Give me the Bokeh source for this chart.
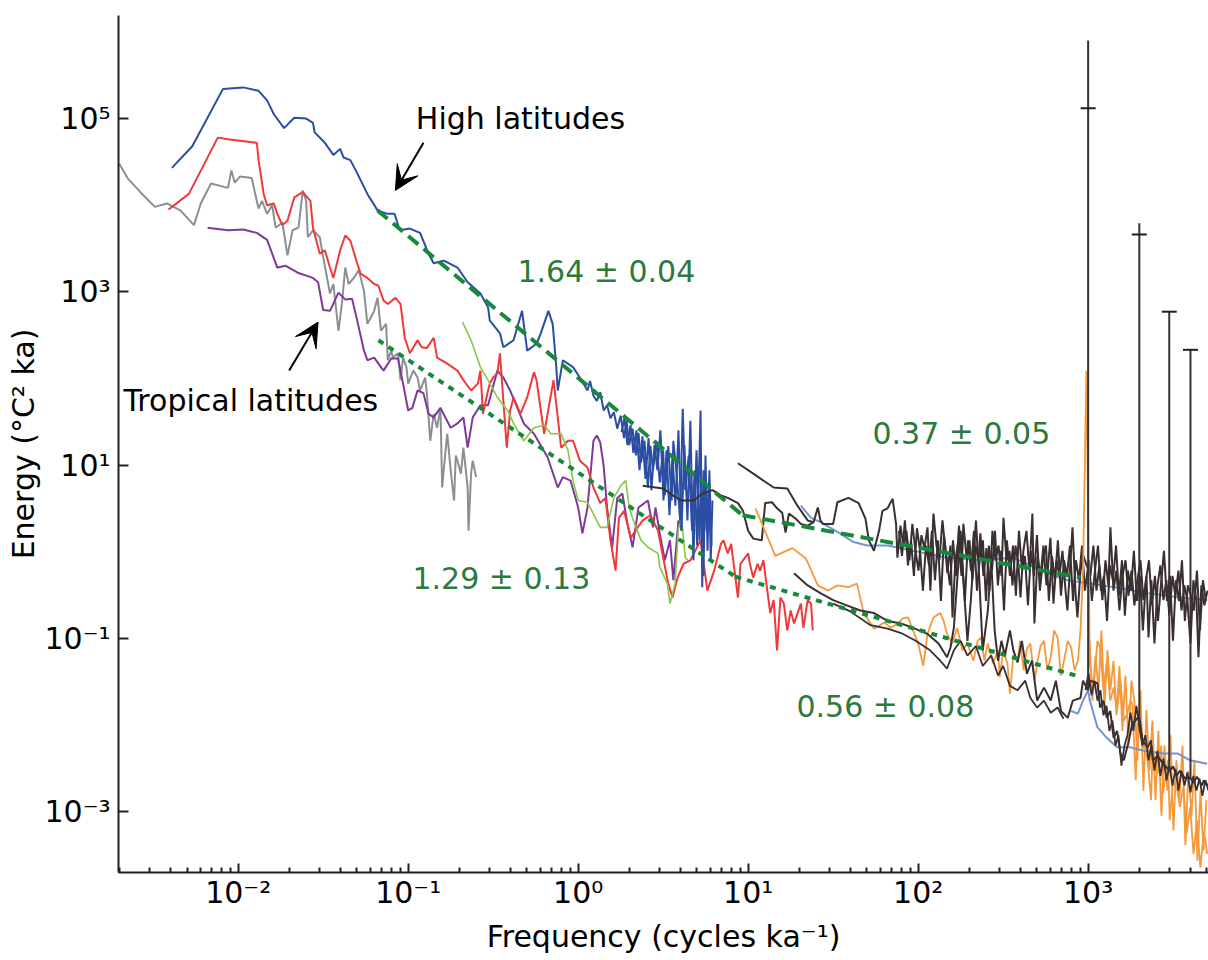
from bokeh.plotting import figure
from bokeh.models import Range1d, FixedTicker, ColumnDataSource, Label, Arrow, VeeHead
from bokeh.embed import file_html
from bokeh.resources import INLINE

# ---- values (log10 of frequency in cycles/ka, log10 of energy in degC^2 ka) ----
blue_log_f = [-2.39,-2.27,-2.09,-1.97,-1.88,-1.83,-1.79,-1.73,-1.67,-1.60,-1.56,-1.55,-1.49,-1.44,-1.40,-1.38,-1.34,-1.30,-1.24,-1.18,
              -1.12,-1.08,-1.05,-0.99,-0.93,-0.88,-0.85,-0.79,-0.71,-0.65,-0.575,-0.53,-0.52,-0.46,-0.44,-0.38,-0.33,-0.30,-0.245,-0.22,
              -0.175,-0.15,-0.13,-0.12,-0.09,-0.03,0.01,0.055,
              0.07,0.09,0.11,0.13,0.15,0.17,0.19,0.21,0.23,0.25,0.27,0.285,0.30,0.32,0.34,0.355,0.37,0.39,0.41,0.425,
              0.44,0.46,0.48,0.50,0.51,0.53,0.55,0.56,0.58,0.60,0.615,0.63,0.65,0.67,0.685,0.70,0.72,0.73,0.74,0.755,0.77,0.78,0.79]
blue_log_E = [4.43,4.68,5.34,5.36,5.32,5.21,5.05,4.89,5.01,5.00,4.95,4.84,4.72,4.58,4.65,4.55,4.52,4.37,4.13,3.94,
              3.90,3.90,3.71,3.73,3.68,3.44,3.33,3.36,3.28,3.11,2.98,2.82,2.67,2.52,2.36,2.44,2.78,2.32,2.40,2.52,
              2.78,2.63,2.17,1.86,2.21,2.13,2.01,1.86,
              1.97,1.80,1.74,1.84,1.63,1.69,1.54,1.61,1.42,1.57,1.31,1.51,1.23,1.42,1.11,1.37,1.03,1.28,0.74,1.22,
              0.94,1.28,0.80,1.17,0.65,1.22,0.59,1.28,0.88,0.36,1.65,0.71,1.11,0.24,0.94,0.07,1.63,-0.41,0.94,0.24,0.82,-0.10,0.59]
blue_dense_log_f = [0.255,0.272,0.29,0.308,0.325,0.343,0.361,0.378,0.396,0.414,0.431,0.449,0.466,0.484,0.502,0.52,0.537,0.555,0.572,0.59,
                    0.608,0.625,0.643,0.66,0.678,0.696,0.714,0.725,0.737,0.749,0.761,0.772,0.784]
blue_dense_log_E = [1.38,1.54,1.23,1.46,1.14,1.40,0.94,1.33,0.84,1.31,0.71,1.23,0.94,1.40,0.59,1.17,0.42,1.11,0.53,1.40,
                    0.24,1.23,0.36,1.51,-0.10,1.17,0.13,0.94,-0.28,1.11,0.01,0.94,0.07]

red_log_f = [-2.41,-2.29,-2.12,-2.06,-1.89,-1.88,-1.85,-1.83,-1.79,-1.77,-1.74,-1.71,-1.67,-1.62,-1.575,-1.56,-1.52,-1.49,-1.46,-1.44,
             -1.40,-1.37,-1.34,-1.30,-1.28,-1.24,-1.20,-1.175,-1.145,-1.12,-1.075,-1.045,-1.02,-0.99,-0.945,-0.92,-0.89,-0.85,-0.83,-0.77,
             -0.71,-0.675,-0.63,-0.59,-0.575,-0.56,-0.53,-0.52,-0.50,-0.475,-0.46,-0.44,-0.42,-0.40,-0.38,-0.34,-0.30,-0.26,-0.245,-0.20,
             -0.18,-0.145,-0.10,-0.06,-0.03,0.01,0.055,0.09,0.13,0.16,0.19,0.22,0.24,0.27,0.31,0.35,0.38,0.425,0.47,0.50,
             0.53,0.555,0.585,0.62,0.66,0.72,0.76,0.80,0.84,0.855,0.88,0.90,0.91,0.94,0.955,1.00,1.01,1.03,1.055,1.07,
             1.09,1.11,1.13,1.15,1.17,1.19,1.21,1.23,1.25,1.27,1.31,1.325,1.35,1.37,1.38]
red_log_E = [3.95,4.13,4.78,4.76,4.72,4.52,4.13,4.00,4.02,3.90,3.77,3.82,4.09,4.15,4.05,3.74,3.44,3.48,3.28,3.16,
             3.48,3.65,3.59,3.33,3.21,3.16,3.09,3.07,2.90,2.86,2.93,2.86,2.47,2.29,2.44,2.36,2.35,2.47,2.24,2.17,
             2.09,1.98,1.86,1.94,2.09,1.59,1.86,1.94,2.01,2.06,2.29,1.74,1.20,1.63,1.78,1.59,1.78,2.07,1.98,1.36,
             1.59,1.98,1.20,1.28,1.28,1.05,0.97,0.74,0.56,0.62,0.13,-0.22,0.39,0.47,0.16,0.28,0.36,0.42,0.24,-0.07,
             -0.37,-0.53,-0.30,-0.14,-0.10,0.13,-0.45,-0.22,0.09,0.13,-0.02,0.09,-0.07,-0.53,-0.14,-0.02,-0.14,-0.30,-0.14,-0.22,
             -0.10,-0.41,-0.71,-0.56,-1.14,-0.53,-0.60,-0.91,-0.68,-0.83,-0.60,-0.88,-0.56,-0.60,-0.91]

gray_log_f = [-2.70,-2.65,-2.575,-2.49,-2.42,-2.34,-2.26,-2.22,-2.16,-2.06,-2.04,-2.02,-1.99,-1.94,-1.92,-1.90,-1.88,-1.86,-1.83,-1.80,
              -1.78,-1.74,-1.71,-1.68,-1.645,-1.62,-1.60,-1.59,-1.56,-1.52,-1.50,-1.46,-1.44,-1.41,-1.39,-1.37,-1.35,-1.32,-1.29,-1.26,
              -1.24,-1.22,-1.20,-1.18,-1.16,-1.13,-1.12,-1.10,-1.09,-1.06,-1.045,-1.03,-1.01,-1.00,-0.97,-0.945,-0.93,-0.90,-0.89,-0.87,
              -0.85,-0.83,-0.81,-0.80,-0.78,-0.77,-0.75,-0.73,-0.72,-0.71,-0.69,-0.675,-0.65,-0.645,-0.63,-0.62,-0.60]
gray_log_E = [4.48,4.31,4.15,3.98,4.02,3.94,3.77,4.02,4.25,4.20,4.40,4.26,4.33,4.32,4.31,4.13,3.96,4.05,3.90,4.00,
              3.74,3.80,3.42,3.71,3.74,4.17,4.05,3.63,3.71,3.63,3.40,2.98,3.09,2.55,2.86,3.28,3.09,3.16,3.25,3.01,
              2.63,2.70,2.78,2.93,2.55,2.63,2.21,2.32,2.24,2.29,1.98,2.24,2.13,1.94,2.09,2.01,1.86,2.01,1.83,1.28,
              1.59,1.43,1.66,0.74,1.17,1.36,0.94,0.59,1.11,1.05,0.90,1.20,0.74,0.24,0.90,1.05,0.86]

purple_log_f = [-2.18,-2.06,-1.97,-1.89,-1.83,-1.77,-1.72,-1.65,-1.56,-1.53,-1.50,-1.46,-1.41,-1.37,-1.33,-1.30,-1.26,-1.24,-1.20,-1.145,
                -1.10,-1.06,-1.03,-1.00,-0.975,-0.945,-0.91,-0.88,-0.85,-0.81,-0.75,-0.71,-0.675,-0.65,-0.62,-0.575,-0.53,-0.475,-0.44,-0.40,
                -0.32,-0.26,-0.18,-0.12,-0.09,-0.045,0.00,0.025,0.055,0.09,0.11,0.13,0.15,0.17,0.20,0.23,0.26,0.29,0.32,0.355,
                0.41,0.44,0.455,0.48,0.51,0.54,0.56,0.59,0.61]
purple_log_E = [3.74,3.71,3.72,3.68,3.60,3.28,3.30,3.22,3.16,3.11,2.79,2.78,2.99,2.91,2.92,2.67,2.32,2.21,2.24,2.09,
                2.23,2.23,1.94,1.63,1.66,1.86,1.83,1.59,1.55,1.66,1.43,1.48,1.55,1.20,1.55,1.69,1.69,2.09,2.01,1.86,
                1.48,1.36,1.09,0.74,0.86,0.82,0.51,0.21,0.51,1.28,1.34,1.26,0.99,0.51,0.05,0.62,0.67,0.32,0.05,0.51,
                0.59,0.28,0.51,0.21,-0.10,0.13,-0.33,0.36,0.24]

green_log_f = [-0.68,-0.63,-0.575,-0.53,-0.475,-0.415,-0.38,-0.32,-0.26,-0.20,-0.16,-0.10,-0.06,-0.03,0.00,0.055,0.13,0.17,0.21,0.25,
               0.28,0.30,0.325,0.37,0.41,0.47,0.48,0.525,0.54,0.57,0.59,0.61,0.63,0.645]
green_log_E = [2.65,2.44,2.13,1.98,1.78,1.63,1.48,1.28,1.43,1.46,1.36,1.36,1.17,0.82,0.59,0.57,0.28,0.28,0.62,0.76,
               0.82,0.51,0.36,0.13,0.05,-0.02,-0.18,-0.37,-0.60,-0.37,0.28,0.36,-0.07,-0.10]

dark_a_log_f = [0.38,0.50,0.555,0.61,0.68,0.73,0.79,0.84,0.88,0.94,0.97,1.00,1.03,1.08,1.10,1.14,1.17,1.20,1.22,1.24,
                1.28,1.31,1.35,1.385,1.41,1.425,1.44,1.50,1.525,1.59,1.65,1.69,1.71,1.74,1.77,1.79,1.82,1.85,1.87]
dark_a_log_E = [0.76,0.73,0.65,0.59,0.59,0.67,0.71,0.65,0.62,0.56,0.47,0.24,0.15,0.13,0.56,0.57,0.50,0.45,0.22,0.44,
                0.38,0.32,0.30,0.34,0.51,0.36,0.32,0.32,0.57,0.62,0.56,0.38,0.13,0.01,0.24,0.47,0.50,0.61,0.32]

band_log_f = [1.878,1.896,1.913,1.931,1.949,1.966,1.984,2.002,2.019,2.037,2.055,2.072,2.090,2.108,2.125,2.143,2.161,2.172,2.190,2.202,
              2.219,2.237,2.255,2.266,2.284,2.302,2.319,2.337,2.355,2.366,2.384,2.402,2.420,2.437,2.455,2.473,2.490,2.502,2.520,2.537,
              2.555,2.573,2.590,2.602,2.619,2.637,2.655,2.672,2.684,2.702,2.720,2.737,2.755,2.778,2.796,2.814,2.831,2.849,2.867,2.878,
              2.896,2.908,2.925,2.937,2.955,2.972,3.013,3.031,3.049,3.066,3.084,3.102,3.119,3.131,3.149,3.166,3.184,3.202,3.220,3.237,
              3.255,3.272,3.290,3.308,3.325,3.343,3.355,3.372,3.390,3.408,3.425,3.443,3.460,3.478,3.496,3.513,3.531,3.549,3.566,3.584,
              3.602,3.619,3.637,3.649,3.666,3.684,3.702]
band_log_E = [-0.07,0.30,0.07,0.24,-0.10,0.32,0.01,-0.22,0.19,0.04,0.28,-0.45,0.44,0.07,-0.10,0.36,0.01,-0.25,0.07,-0.76,
              -0.10,0.13,-0.28,0.32,-0.05,0.13,-0.33,0.07,-0.10,0.21,-0.28,0.04,-0.45,0.24,-0.10,0.07,-0.28,0.39,-0.10,0.01,
              -0.39,0.07,-0.16,-0.53,0.01,0.24,-0.22,0.44,-0.83,-0.05,-0.28,0.07,-0.39,0.16,-0.60,-0.10,-0.28,0.01,-0.45,-0.68,
              -0.10,0.28,-0.45,-0.76,-0.22,-0.05,-0.28,0.07,-0.45,-0.16,-0.56,-0.10,-0.39,0.28,-0.45,-0.22,-0.68,-0.28,-0.10,-0.51,
              -0.22,-0.62,-0.33,-0.10,-0.56,-0.28,-0.99,-0.33,-1.06,-0.39,-0.16,-0.56,-0.33,-0.74,-0.28,-0.51,-0.22,-0.68,-0.39,-0.56,
              -1.06,-0.33,-0.56,-1.22,-0.39,-0.62,-0.45]
band2_log_f = [1.887,1.905,1.922,1.940,1.958,1.975,1.993,2.011,2.028,2.046,2.064,2.081,2.099,2.116,2.134,2.152,2.169,2.187,2.205,2.222,
               2.240,2.258,2.275,2.293,2.311,2.328,2.346,2.364,2.381,2.399,2.416,2.434,2.452,2.469,2.487,2.505,2.522,2.540,2.558,2.575,
               2.593,2.611,2.628,2.646,2.664,2.681,2.699,2.716,2.734,2.752,2.769,2.787,2.805,2.822,2.840,2.858,2.875,2.893,2.911,2.928,
               2.946,2.964,2.981,3.005,3.022,3.040,3.058,3.075,3.093,3.111,3.128,3.146,3.164,3.181,3.199,3.216,3.234,3.252,3.269,3.287,
               3.305,3.322,3.340,3.358,3.375,3.393,3.411,3.428,3.446,3.464,3.481,3.499,3.516,3.534,3.552,3.569,3.587,3.605,3.622,3.640,
               3.658,3.675,3.693]
band2_log_E = [0.24,-0.05,0.36,-0.16,0.13,-0.28,0.27,0.01,-0.45,0.07,-0.16,0.24,-0.33,0.13,-0.57,0.19,-0.10,-0.39,0.13,-0.28,
               0.30,-0.10,-0.57,0.13,-0.22,0.24,-0.45,-0.05,0.13,-0.57,0.07,-0.22,0.24,-0.39,0.01,-0.68,0.13,-0.28,0.07,-0.51,
               0.24,-0.22,-0.05,-0.62,0.01,-0.28,0.19,-0.45,-0.10,0.07,-0.57,-0.05,-0.33,0.13,-0.51,-0.10,-0.28,0.07,-0.57,-0.10,
               -0.33,0.07,-0.45,-0.10,-0.57,-0.22,0.07,-0.45,-0.28,-0.80,-0.16,-0.33,0.07,-0.51,-0.10,-0.74,-0.22,-0.45,0.01,-0.57,
               -0.28,-0.91,-0.33,-0.10,-0.62,-0.28,-0.80,-0.39,0.01,-0.57,-0.28,-1.03,-0.33,-0.57,-0.10,-0.80,-0.39,-0.51,-0.68,-0.22,
               -0.91,-0.33,-0.57]

dark_b_log_f = [0.94,1.03,1.15,1.23,1.29,1.35,1.385]
dark_b_log_E = [1.02,0.90,0.74,0.73,0.53,0.36,0.34]

dark_c_log_f = [1.27,1.35,1.425,1.50,1.58,1.66,1.74,1.82,1.90,1.97,2.055,2.12,2.17,2.19,2.21,2.23,2.25,2.27,2.29,2.31,
                2.34,2.36,2.38,2.41,2.43,2.45,2.47,2.49,2.51,2.54,2.56,2.585,2.61,2.64,2.67,2.70,2.74,2.78,2.81,2.84,
                2.88,2.91,2.955,2.97,3.00,3.01,3.055,3.07,3.09,3.11,3.13,3.15,3.17,3.19,3.21,3.24,3.26,3.28,3.30,3.32,
                3.35,3.37,3.38,3.41,3.44,3.48,3.50,3.52,3.54,3.57,3.60,3.62,3.64,3.67,3.68,3.71]
dark_c_log_E = [-0.25,-0.39,-0.48,-0.56,-0.62,-0.68,-0.71,-0.80,-0.83,-0.88,-0.95,-1.06,-1.22,-1.11,-0.88,-0.33,0.24,-0.45,-1.03,-0.56,
                0.36,-0.33,-1.14,-0.68,-0.10,-0.91,-1.26,-1.03,-1.20,-0.91,-1.14,-1.28,-1.03,-1.41,-1.26,-1.72,-1.57,-1.72,-1.49,-1.84,
                -1.92,-1.72,-1.69,-1.49,-1.60,-1.49,-1.52,-1.80,-1.72,-1.92,-1.84,-2.15,-2.07,-2.33,-2.41,-2.18,-1.98,-1.95,-1.89,-2.18,
                -2.26,-2.18,-2.41,-2.36,-2.45,-2.53,-2.48,-2.59,-2.53,-2.62,-2.61,-2.67,-2.60,-2.70,-2.64,-2.72]

dark_d_log_f = [1.50,1.60,1.72,1.82,1.90,1.985,2.07,2.13,2.17,2.21,2.25,2.29,2.34,2.38,2.43,2.47,2.50,2.54,2.585,2.63,
                2.66,2.70,2.74,2.78,2.82,2.855]
dark_d_log_E = [-0.60,-0.69,-0.85,-0.89,-0.94,-1.03,-1.14,-1.26,-1.35,-1.14,-1.03,-1.20,-1.09,-1.32,-1.20,-1.43,-1.32,-1.55,-1.60,-1.49,
                -1.69,-1.80,-1.72,-1.86,-1.80,-1.93]

dark_e_log_f = [2.984,3.002,3.020,3.037,3.055,3.072,3.090,3.108,3.125,3.143,3.161,3.178,3.196,3.214,3.231,3.249,3.266,3.284,3.302,3.319,
                3.337,3.355,3.372,3.390,3.408,3.425,3.443,3.461,3.478,3.496,3.514,3.531,3.549,3.567,3.584,3.602,3.619,3.637,3.655,3.672,
                3.690,3.708]
dark_e_log_E = [-1.60,-1.40,-1.66,-1.49,-1.72,-1.60,-1.89,-1.78,-2.07,-1.95,-2.24,-2.12,-2.47,-2.24,-2.12,-1.86,-2.07,-1.78,-2.04,-2.24,
                -2.12,-2.41,-2.24,-2.53,-2.30,-2.59,-2.39,-2.64,-2.47,-2.70,-2.51,-2.76,-2.53,-2.70,-2.55,-2.78,-2.59,-2.76,-2.62,-2.82,
                -2.64,-2.76]

orange_log_f = [1.043,1.09,1.16,1.26,1.34,1.41,1.47,1.525,1.59,1.64,1.68,1.74,1.80,1.84,1.88,1.91,1.94,1.97,2.00,2.03,
                2.055,2.09,2.13,2.15,2.17,2.20,2.23,2.26,2.29,2.325,2.35,2.37,2.39,2.41,2.44,2.47,2.48,2.50,2.525,2.54,
                2.56,2.585,2.60,2.62,2.64,2.66,2.685,2.70,2.72,2.74,2.76,2.78,2.80,2.82,2.84,2.855,2.88,2.90,2.92,2.94,
                2.955,2.97,2.99,3.00,3.01,3.03,3.055,3.07,3.09,3.11,3.13,3.15,3.17,3.19,3.21,3.23,3.25,3.26,3.28,3.29,
                3.31,3.325,3.35,3.37,3.38,3.40,3.41,3.43,3.44,3.47,3.48,3.50,3.525,3.54,3.56,3.58,3.60,3.62,3.64,3.66,
                3.68,3.69,3.70]
orange_log_E = [0.50,0.28,-0.05,0.04,-0.08,-0.39,-0.45,-0.39,-0.41,-0.37,-0.71,-0.89,-0.82,-0.88,-0.83,-0.77,-0.76,-0.91,-1.06,-1.32,
                -0.95,-0.76,-0.71,-0.80,-0.95,-1.06,-0.88,-1.14,-1.06,-1.26,-1.03,-0.99,-1.26,-1.06,-1.29,-1.14,-1.45,-1.14,-1.29,-1.64,
                -1.20,-1.26,-1.03,-1.37,-1.12,-1.06,-1.49,-1.29,-1.09,-1.03,-1.37,-1.22,-0.91,-0.99,-1.43,-1.29,-1.03,-1.11,-1.37,-1.26,
                -0.91,-0.22,2.09,0.36,-1.29,-1.60,-1.03,-1.11,-1.60,-1.26,-1.72,-1.57,-1.84,-1.49,-1.95,-1.87,-1.72,-1.76,-2.64,-1.98,
                -2.07,-2.24,-2.41,-2.87,-2.26,-2.53,-2.56,-2.24,-2.79,-2.41,-3.10,-2.64,-2.76,-2.95,-2.72,-3.25,-2.95,-3.49,-3.10,-3.65,
                -3.25,-3.33,-3.49]
orange2_log_f = [3.008,3.025,3.043,3.061,3.078,3.096,3.114,3.131,3.149,3.167,3.184,3.202,3.219,3.237,3.255,3.272,3.290,3.308,3.325,3.343,
                 3.361,3.378,3.396,3.413,3.431,3.449,3.466,3.484,3.502,3.519,3.537,3.555,3.572,3.590,3.608,3.625,3.643,3.661,3.678,3.696]
orange2_log_E = [-1.03,-1.72,-1.20,-1.60,-0.91,-1.78,-1.14,-1.60,-1.26,-1.89,-1.32,-2.07,-1.43,-2.24,-1.49,-1.72,-2.41,-1.60,-2.76,-1.83,
                 -2.53,-1.95,-2.87,-2.07,-3.05,-2.24,-2.76,-2.12,-3.22,-2.41,-2.87,-2.24,-3.39,-2.53,-3.05,-2.41,-3.57,-2.76,-3.45,-2.87]

lightblue_a_log_f = [1.31,1.37,1.425,1.54,1.62,1.70,1.82,1.97,2.17,2.37,2.56,2.76,2.88,3.15,3.35,3.54,3.70]
lightblue_a_log_E = [0.53,0.39,0.34,0.21,0.11,0.07,0.07,0.01,-0.07,-0.10,-0.07,-0.25,-0.33,-0.41,-0.48,-0.53,-0.56]
lightblue_b_log_f = [2.90,2.94,2.97,3.00,3.01,3.055,3.11,3.17,3.25,3.325,3.44,3.525,3.60,3.70]
lightblue_b_log_E = [-1.84,-1.87,-1.72,-1.60,-1.72,-2.03,-2.15,-2.26,-2.26,-2.30,-2.33,-2.33,-2.41,-2.45]

spike_f = [1000, 2000, 3000, 4000]
spike_base_log_E = [-1.60, -1.89, -2.53, -2.61]
spike_cap_log_E = [5.12, 3.66, 2.77, 2.33]
spike_top_log_E = [5.90, 3.79, 2.77, 2.33]

# fitted power laws (end points, log10 units)
fit_high_a_log_f, fit_high_a_log_E = [-1.18, 0.967], [3.94, 0.42]
fit_high_b_log_f, fit_high_b_log_E = [0.967, 2.955], [0.42, -0.30]
fit_trop_a_log_f, fit_trop_a_log_E = [-1.175, 0.925], [2.44, -0.29]
fit_trop_b_log_f, fit_trop_b_log_E = [0.925, 2.925], [-0.29, -1.43]

x_major = [1e-2, 1e-1, 1e0, 1e1, 1e2, 1e3]
x_major_labels = ["10\u207b\u00b2", "10\u207b\u00b9", "10\u2070", "10\u00b9", "10\u00b2", "10\u00b3"]
y_major = [1e-3, 1e-1, 1e1, 1e3, 1e5]
y_major_labels = ["10\u207b\u00b3", "10\u207b\u00b9", "10\u00b9", "10\u00b3", "10\u2075"]


def src(lf, le):
    return ColumnDataSource(dict(f=[10 ** v for v in lf], E=[10 ** v for v in le]))


FONT = "DejaVu Sans"
FS = "30px"
X_LO, X_HI = -2.704, 3.708
Y_LO, Y_HI = -3.705, 6.19

p = figure(width=1208, height=960, x_axis_type="log", y_axis_type="log",
           x_range=Range1d(10 ** X_LO, 10 ** X_HI), y_range=Range1d(10 ** Y_LO, 10 ** Y_HI),
           output_backend="svg", toolbar_location=None,
           min_border_left=118, min_border_right=0, min_border_top=15, min_border_bottom=88)
p.outline_line_color = None
p.grid.visible = False
p.background_fill_color = "white"

# axes
x_minor = [m * 10.0 ** d for d in range(-3, 4) for m in range(2, 10)]
p.xaxis.ticker = FixedTicker(ticks=x_major, minor_ticks=x_minor)
p.yaxis.ticker = FixedTicker(ticks=y_major, minor_ticks=[])
p.xaxis.major_label_overrides = dict(zip(x_major, x_major_labels))
p.yaxis.major_label_overrides = dict(zip(y_major, y_major_labels))
for ax in (p.xaxis[0], p.yaxis[0]):
    ax.axis_line_color = "#231f20"
    ax.axis_line_width = 2
    ax.major_tick_line_color = "#231f20"
    ax.major_tick_line_width = 2
    ax.minor_tick_line_color = "#231f20"
    ax.minor_tick_line_width = 2
    ax.major_tick_out = 0
    ax.minor_tick_out = 0
    ax.major_label_text_font = FONT
    ax.major_label_text_font_size = FS
    ax.major_label_text_color = "black"
    ax.axis_label_text_font = FONT
    ax.axis_label_text_font_size = FS
    ax.axis_label_text_font_style = "normal"
    ax.axis_label_text_color = "black"
p.xaxis.major_tick_in = 9
p.xaxis.minor_tick_in = 5
p.yaxis.major_tick_in = 10
p.yaxis.minor_tick_in = 0
p.xaxis.major_label_standoff = 2
p.yaxis.major_label_standoff = 8
p.xaxis.axis_label = "Frequency (cycles ka\u207b\u00b9)"
p.yaxis.axis_label = "Energy (\u00b0C\u00b2 ka)"
p.xaxis.axis_label_standoff = 6
p.yaxis.axis_label_standoff = 0

# spectra
DARK = "#3a2f31"
p.line("f", "E", source=src(gray_log_f, gray_log_E), line_color="#8c8f91", line_width=2)
p.line("f", "E", source=src(purple_log_f, purple_log_E), line_color="#7f3a97", line_width=2)
p.line("f", "E", source=src(red_log_f, red_log_E), line_color="#ee3a3a", line_width=2)
p.line("f", "E", source=src(green_log_f, green_log_E), line_color="#86c84a", line_width=1.6)
p.line("f", "E", source=src(blue_log_f, blue_log_E), line_color="#2b4da3", line_width=2)
p.line("f", "E", source=src(blue_dense_log_f, blue_dense_log_E), line_color="#2b4da3", line_width=2)
p.line("f", "E", source=src(lightblue_a_log_f, lightblue_a_log_E), line_color="#7592d2", line_width=2)
p.line("f", "E", source=src(dark_a_log_f + band_log_f, dark_a_log_E + band_log_E), line_color=DARK, line_width=2)
p.line("f", "E", source=src(band2_log_f, band2_log_E), line_color=DARK, line_width=2)
p.line("f", "E", source=src(dark_b_log_f, dark_b_log_E), line_color=DARK, line_width=2)
p.line("f", "E", source=src(orange_log_f, orange_log_E), line_color="#f5993a", line_width=1.8)
p.line("f", "E", source=src(orange2_log_f, orange2_log_E), line_color="#f5993a", line_width=1.8)
p.line("f", "E", source=src(lightblue_b_log_f, lightblue_b_log_E), line_color="#7592d2", line_width=2)
p.line("f", "E", source=src(dark_d_log_f, dark_d_log_E), line_color=DARK, line_width=1.8)
p.line("f", "E", source=src(dark_c_log_f, dark_c_log_E), line_color=DARK, line_width=2)
p.line("f", "E", source=src(dark_e_log_f, dark_e_log_E), line_color=DARK, line_width=1.8)

# annual-cycle peaks
spk = ColumnDataSource(dict(f=spike_f,
                            base=[10 ** v for v in spike_base_log_E],
                            cap=[10 ** v for v in spike_cap_log_E],
                            top=[10 ** v for v in spike_top_log_E]))
p.segment(x0="f", y0="base", x1="f", y1="top", source=spk, line_color=DARK, line_width=2)
p.scatter(x="f", y="cap", source=spk, marker="dash", size=15, line_color="#231f20", line_width=2)

# fits
FIT = "#17893b"
p.line("f", "E", source=src(fit_high_a_log_f, fit_high_a_log_E), line_color=FIT, line_width=4, line_dash="13 7")
p.line("f", "E", source=src(fit_high_b_log_f, fit_high_b_log_E), line_color=FIT, line_width=4, line_dash="13 7")
p.line("f", "E", source=src(fit_trop_a_log_f, fit_trop_a_log_E), line_color=FIT, line_width=4, line_dash="6 6")
p.line("f", "E", source=src(fit_trop_b_log_f, fit_trop_b_log_E), line_color=FIT, line_width=4, line_dash="6 6")

# annotations
TXT = "#2c7a3b"
notes = [
    ("High latitudes", 10 ** -0.955, 10 ** 5.0, "black"),
    ("Tropical latitudes", 10 ** -2.675, 10 ** 1.745, "black"),
    ("1.64 \u00b1 0.04", 10 ** -0.357, 10 ** 3.23, TXT),
    ("0.37 \u00b1 0.05", 10 ** 1.731, 10 ** 1.364, TXT),
    ("1.29 \u00b1 0.13", 10 ** -0.975, 10 ** -0.31, TXT),
    ("0.56 \u00b1 0.08", 10 ** 1.284, 10 ** -1.79, TXT),
]
for t, x, y, c in notes:
    p.add_layout(Label(x=x, y=y, text=t, text_font=FONT, text_font_size=FS,
                       text_color=c, text_baseline="middle", text_align="left"))

p.add_layout(Arrow(end=VeeHead(size=24, fill_color="black", line_color="black"),
                   x_start=10 ** -0.91, y_start=10 ** 4.72, x_end=10 ** -1.075, y_end=10 ** 4.17,
                   line_color="black", line_width=2))
p.add_layout(Arrow(end=VeeHead(size=24, fill_color="black", line_color="black"),
                   x_start=10 ** -1.70, y_start=10 ** 2.09, x_end=10 ** -1.53, y_end=10 ** 2.65,
                   line_color="black", line_width=2))

open("out.html", "w").write(file_html(p, INLINE))
